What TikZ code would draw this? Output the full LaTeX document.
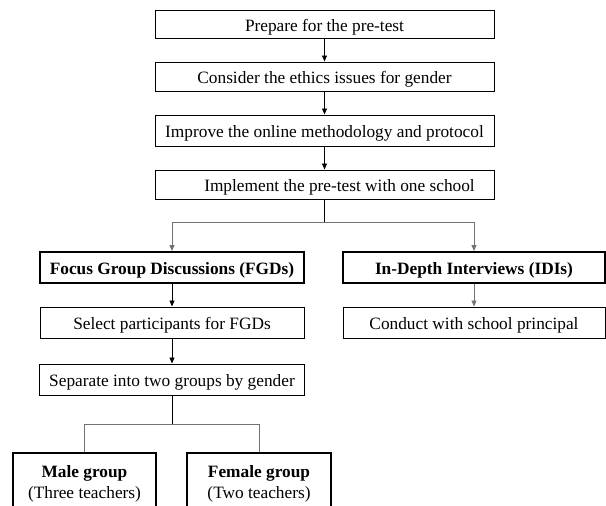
\documentclass[tikz,border=0pt]{standalone}
\usepackage{fontspec}
\setmainfont{Liberation Serif}
\usetikzlibrary{arrows.meta}
\begin{document}
\begin{tikzpicture}[x=1pt,y=-1pt,
  stepbox/.style={draw=black,line width=1pt,rectangle,inner sep=0pt,
    text height=15pt,text depth=1pt,
    font=\fontsize{17.3}{21}\selectfont},
  thickbox/.style={stepbox,line width=2pt,font=\fontsize{17.3}{21}\selectfont\bfseries},
  groupbox/.style={draw=black,line width=2pt,rectangle,inner sep=0pt,align=center,
    font=\fontsize{17.3}{21}\selectfont\bfseries},
  arr/.style={draw=black,line width=0.9pt,-{Triangle[length=6pt,width=5pt]}},
  arrg/.style={draw=black!55,line width=0.9pt,-{Triangle[length=6pt,width=5pt]}},
  lineb/.style={draw=black,line width=0.9pt},
  lineg/.style={draw=black!55,line width=0.9pt}]
\useasboundingbox (0,0) rectangle (606,506);
\clip (0,0) rectangle (606,506);
% top column
\node[stepbox,minimum width=339pt,minimum height=28pt] (b1) at (324.5,24) {Prepare for the pre-test};
\node[stepbox,minimum width=339pt,minimum height=29pt] (b2) at (324.5,76.5) {Consider the ethics issues for gender};
\node[stepbox,minimum width=339pt,minimum height=31pt] (b3) at (324.5,130.5) {Improve the online methodology and protocol};
\node[stepbox,minimum width=339pt,minimum height=29pt] (b4) at (324.5,184.5) {\hspace{30pt}Implement the pre-test with one school};
\draw[arr] (b1) -- (b2);
\draw[arr] (b2) -- (b3);
\draw[arr] (b3) -- (b4);
% branch
\coordinate (j1) at (324.5,222);
\node[thickbox,minimum width=264pt,minimum height=31pt] (fgd) at (172,267.5) {Focus Group Discussions (FGDs)};
\node[thickbox,minimum width=262pt,minimum height=31pt] (idi) at (474,267.5) {In-Depth Interviews (IDIs)};
\draw[lineb] (b4) -- (j1);
\draw[arrg] (j1) -| (fgd.north);
\draw[arrg] (j1) -| (idi.north);
% left column
\node[stepbox,minimum width=264pt,minimum height=31pt] (sel) at (172,322.5) {Select participants for FGDs};
\node[stepbox,minimum width=262pt,minimum height=31pt] (con) at (474,322.5) {Conduct with school principal};
\draw[arr] (fgd) -- (sel);
\draw[arrg] (idi) -- (con);
\node[stepbox,minimum width=265pt,minimum height=31pt] (sep) at (172,379.5) {Separate into two groups by gender};
\draw[arr] (sel) -- (sep);
% gender groups
\coordinate (j2) at (172,424);
\node[groupbox,minimum width=143pt,minimum height=61pt] (male) at (84.5,483.5) {Male group\\\mdseries(Three teachers)};
\node[groupbox,minimum width=144pt,minimum height=61pt] (female) at (259,483.5) {Female group\\\mdseries(Two teachers)};
\draw[lineb] (sep) -- (j2);
\draw[lineg] (j2) -| (male.north);
\draw[lineg] (j2) -| (female.north);
\end{tikzpicture}
\end{document}
